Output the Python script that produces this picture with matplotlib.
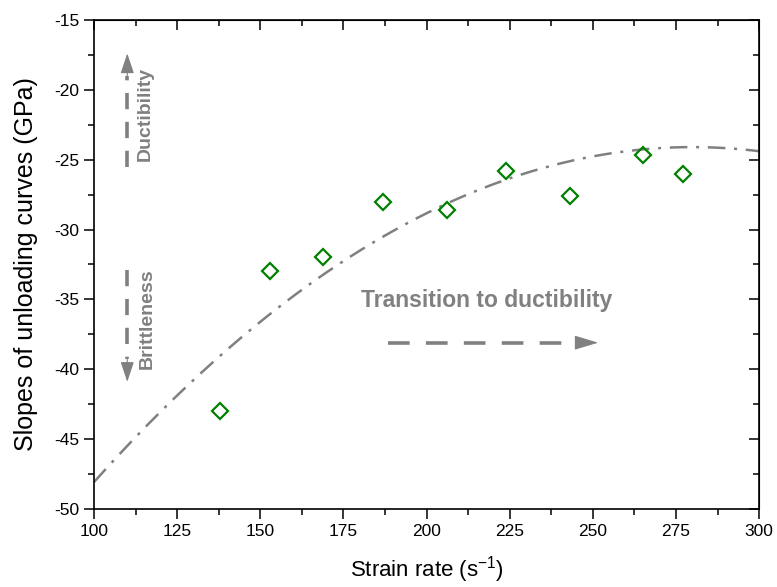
import numpy as np
import matplotlib
matplotlib.use('Agg')
import matplotlib.pyplot as plt
from matplotlib.ticker import MultipleLocator

plt.rcParams['font.family'] = ['Liberation Sans', 'DejaVu Sans']
plt.rcParams['axes.unicode_minus'] = False

# data
strain_rate = [138, 153, 169, 187, 206, 224, 243, 265, 277]
slope = [-43.0, -33.0, -32.0, -28.0, -28.6, -25.8, -27.6, -24.7, -26.0]

# fitted parabola as drawn in the picture (vertex form)
fit_peak_x = 280.0
fit_peak_y = -24.1
fit_curv = -0.00074
xf = np.linspace(100, 300, 300)
yf = fit_peak_y + fit_curv * (xf - fit_peak_x) ** 2

grey = '#808080'

fig = plt.figure(figsize=(7.77, 5.87), dpi=100)
ax = fig.add_axes([0.121, 0.133, 0.856, 0.833])

ax.plot(xf, yf, color=grey, lw=1.8, dashes=(7, 3.5, 1.2, 3.5))
ax.plot(strain_rate, slope, 'D', ms=8, mfc='none', mec='#008000', mew=1.6)

ax.set_xlim(100, 300)
ax.set_ylim(-50, -15)
ax.xaxis.set_major_locator(MultipleLocator(25))
ax.xaxis.set_minor_locator(MultipleLocator(12.5))
ax.yaxis.set_major_locator(MultipleLocator(5))
ax.yaxis.set_minor_locator(MultipleLocator(2.5))

for s in ax.spines.values():
    s.set_linewidth(1.2)
ax.tick_params(which='both', direction='out', width=1.1, labelsize=12.5,
               top=False, right=False)
ax.tick_params(which='major', length=7)
ax.tick_params(which='minor', length=4)

# inward ticks on top/right
ax2 = ax.secondary_xaxis('top')
ax2.xaxis.set_major_locator(MultipleLocator(25))
ax2.xaxis.set_minor_locator(MultipleLocator(12.5))
ax2.tick_params(which='both', direction='in', width=1.1, labeltop=False)
ax2.tick_params(which='major', length=7)
ax2.tick_params(which='minor', length=4)
ay2 = ax.secondary_yaxis('right')
ay2.yaxis.set_major_locator(MultipleLocator(5))
ay2.yaxis.set_minor_locator(MultipleLocator(2.5))
ay2.tick_params(which='both', direction='in', width=1.1, labelright=False)
ay2.tick_params(which='major', length=7)
ay2.tick_params(which='minor', length=4)

ax.set_xlabel('Strain rate (s$^{\\mathregular{-1}}$)', fontsize=16, labelpad=11)
ax.set_ylabel('Slopes of unloading curves (GPa)', fontsize=18, labelpad=12)

# dashed arrows: dashed shaft + solid head
def dash_arrow(x0, y0, xb, yb, x1, y1, dashes, hl, hw):
    ax.plot([x0, xb], [y0, yb], color=grey, lw=2.6, dashes=dashes,
            solid_capstyle='butt', dash_capstyle='butt')
    ax.annotate('', xy=(x1, y1), xytext=(xb, yb),
                arrowprops=dict(arrowstyle='-|>,head_length=%g,head_width=%g' % (hl, hw),
                                color=grey, lw=0.8, shrinkA=0, shrinkB=0,
                                mutation_scale=10))

dash_arrow(110, -25.5, 110, -19.0, 110, -17.4, (4.5, 3.5), 1.25, 0.42)
dash_arrow(110, -32.9, 110, -39.3, 110, -40.9, (4.5, 3.5), 1.25, 0.42)
dash_arrow(188.4, -38.1, 245.0, -38.1, 251.6, -38.1, (6, 4.5), 1.5, 0.45)

ax.text(115.5, -21.7, 'Ductibility', rotation=90, color=grey, fontsize=14,
        fontweight='bold', ha='center', va='center')
ax.text(116, -36.4, 'Brittleness', rotation=90, color=grey, fontsize=14,
        fontweight='bold', ha='center', va='center')
ax.text(218, -35.1, 'Transition to ductibility', color=grey, fontsize=16.5,
        fontweight='bold', ha='center', va='center')

fig.savefig('out.png', dpi=100)
